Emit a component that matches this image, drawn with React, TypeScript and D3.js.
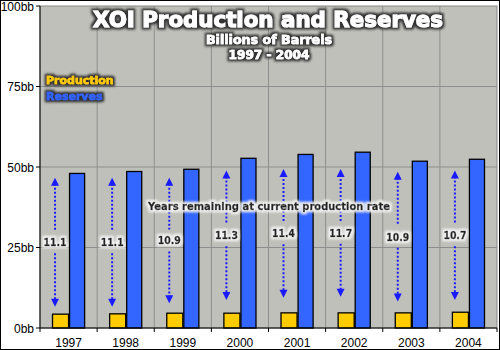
import React from "react";
import * as d3 from "d3";

const width = 500;
const height = 350;
const margin = { top: 6, right: 3, bottom: 22, left: 40 };

const years = ["1997", "1998", "1999", "2000", "2001", "2002", "2003", "2004"];
const production = [4.3, 4.4, 4.6, 4.6, 4.7, 4.7, 4.7, 4.9];
const reserves = [48.0, 48.6, 49.3, 52.7, 53.9, 54.6, 51.8, 52.4];
const yearsLeft = ["11.1", "11.1", "10.9", "11.3", "11.4", "11.7", "10.9", "10.7"];
const arrowTop = [46.7, 46.7, 46.7, 48.9, 49.4, 49.4, 48.5, 48.9];
const arrowBottom = [6.6, 6.6, 7.7, 8.7, 9.4, 9.7, 8.2, 8.7];
const yTicks = [0, 25, 50, 75, 100];
const seriesNames = ["Production", "Reserves"];
const colors = { Production: "#FFCC00", Reserves: "#3366FF" };

const font = "'DejaVu Sans', Verdana, sans-serif";
const axisFont = "'Liberation Sans', Arial, sans-serif";

// heavy text: bold glyphs thickened with a thin stroke of the same colour
function Heavy({ fill, halo, thick = 0.7, children, ...rest }) {
  return (
    <text
      fontFamily={font}
      fontWeight="bold"
      fill={fill}
      stroke={fill}
      strokeWidth={thick}
      filter={`url(#${halo})`}
      {...rest}
    >
      {children}
    </text>
  );
}

export default function App() {
  const x = d3
    .scaleBand()
    .domain(years)
    .range([margin.left, width - margin.right])
    .padding(0);
  const x1 = d3
    .scaleBand()
    .domain(seriesNames)
    .range([0, x.bandwidth()])
    .paddingInner(0)
    .paddingOuter(0.78);
  const y = d3
    .scaleLinear()
    .domain([0, 100])
    .range([height - margin.bottom, margin.top]);

  const plotBottom = y(0);
  const plotTop = y(100);

  return (
    <div style={{ position: "absolute", left: 0, top: 0 }}>
      <svg width={width} height={height} style={{ display: "block" }}>
        <defs>
          <filter id="darkHalo" x="-10%" y="-30%" width="120%" height="160%">
            <feMorphology in="SourceAlpha" operator="dilate" radius="1.7" result="d" />
            <feGaussianBlur in="d" stdDeviation="1" result="b" />
            <feFlood floodColor="#333" />
            <feComposite in2="b" operator="in" result="halo" />
            <feMerge>
              <feMergeNode in="halo" />
              <feMergeNode in="SourceGraphic" />
            </feMerge>
          </filter>
          <filter id="lightHalo" x="-10%" y="-30%" width="120%" height="160%">
            <feMorphology in="SourceAlpha" operator="dilate" radius="1.5" result="d" />
            <feGaussianBlur in="d" stdDeviation="0.9" result="b" />
            <feFlood floodColor="#f2f2f2" />
            <feComposite in2="b" operator="in" result="halo" />
            <feMerge>
              <feMergeNode in="halo" />
              <feMergeNode in="SourceGraphic" />
            </feMerge>
          </filter>
        </defs>

        <rect x={0.5} y={0.5} width={width - 1} height={height - 1} fill="#fff" stroke="#000" />

        {/* plot area */}
        <rect
          x={margin.left}
          y={plotTop}
          width={width - margin.right - margin.left}
          height={plotBottom - plotTop}
          fill="#C0C0BA"
          stroke="#888"
        />

        {/* grid */}
        {yTicks.slice(1, -1).map(t => (
          <line key={t} x1={margin.left} x2={width - margin.right} y1={y(t)} y2={y(t)} stroke="#8e8e8e" />
        ))}
        {years.slice(1).map(yr => (
          <line key={yr} x1={x(yr)} x2={x(yr)} y1={plotTop} y2={plotBottom} stroke="#8e8e8e" />
        ))}

        {/* bars */}
        {years.map((yr, i) => (
          <g key={yr}>
            <rect
              x={x(yr) + x1("Production")}
              y={y(production[i])}
              width={x1.bandwidth()}
              height={plotBottom - y(production[i])}
              fill={colors.Production}
              stroke="#000"
              strokeWidth={1.3}
            />
            <rect
              x={x(yr) + x1("Reserves") + 1}
              y={y(reserves[i])}
              width={x1.bandwidth() - 1}
              height={plotBottom - y(reserves[i])}
              fill={colors.Reserves}
              stroke="#000"
              strokeWidth={1.3}
            />
          </g>
        ))}

        {/* arrows */}
        {years.map((yr, i) => {
          const ax = x(yr) + x1("Production") + 2.5;
          const t = y(arrowTop[i]);
          const b = y(arrowBottom[i]);
          const mid = (t + b) / 2;
          return (
            <g key={yr}>
              <line x1={ax} x2={ax} y1={t + 6} y2={mid - 11} stroke="#1a1aff" strokeWidth={2} strokeDasharray="2,2" />
              <line x1={ax} x2={ax} y1={mid + 11} y2={b - 6} stroke="#1a1aff" strokeWidth={2} strokeDasharray="2,2" />
              <path d={`M${ax},${t} L${ax - 4},${t + 8} L${ax + 4},${t + 8} Z`} fill="#1a1aff" />
              <path d={`M${ax},${b} L${ax - 4},${b - 8} L${ax + 4},${b - 8} Z`} fill="#1a1aff" />
              <Heavy
                x={ax}
                y={mid + 4}
                textAnchor="middle"
                fontSize={11}
                fill="#222"
                halo="lightHalo"
                thick={0.5}
                textLength={23}
                lengthAdjust="spacingAndGlyphs"
              >
                {yearsLeft[i]}
              </Heavy>
            </g>
          );
        })}

        <Heavy
          x={269}
          y={210}
          textAnchor="middle"
          fontSize={11}
          fill="#222"
          halo="lightHalo"
          thick={0.5}
          textLength={242}
          lengthAdjust="spacingAndGlyphs"
        >
          Years remaining at current production rate
        </Heavy>

        {/* axes */}
        <line x1={margin.left} x2={margin.left} y1={plotTop} y2={plotBottom} stroke="#000" />
        <line x1={margin.left} x2={width - margin.right} y1={plotBottom} y2={plotBottom} stroke="#000" />
        {yTicks.map(t => (
          <g key={t}>
            <line x1={margin.left - 4} x2={margin.left} y1={y(t)} y2={y(t)} stroke="#000" />
            <text x={34} y={y(t) + 4.5} textAnchor="end" fontFamily={axisFont} fontSize={12} fill="#000">
              {`${t}bb`}
            </text>
          </g>
        ))}
        {years.concat(["end"]).map((yr, i) => {
          const px = i < years.length ? x(yr) : width - margin.right;
          return <line key={yr} x1={px} x2={px} y1={plotBottom} y2={plotBottom + 4} stroke="#000" />;
        })}
        {years.map(yr => (
          <text
            key={yr}
            x={x(yr) + x.bandwidth() / 2}
            y={plotBottom + 19}
            textAnchor="middle"
            fontFamily={axisFont}
            fontSize={12}
            fill="#000"
          >
            {yr}
          </text>
        ))}

        {/* titles */}
        <Heavy
          x={268}
          y={27}
          textAnchor="middle"
          fontSize={21}
          fill="#fff"
          halo="darkHalo"
          thick={1}
          textLength={350}
          lengthAdjust="spacingAndGlyphs"
        >
          XOI Production and Reserves
        </Heavy>
        <Heavy
          x={269}
          y={44}
          textAnchor="middle"
          fontSize={12}
          fill="#fff"
          halo="darkHalo"
          thick={0.6}
          textLength={126}
          lengthAdjust="spacingAndGlyphs"
        >
          Billions of Barrels
        </Heavy>
        <Heavy
          x={269}
          y={59}
          textAnchor="middle"
          fontSize={12}
          fill="#fff"
          halo="darkHalo"
          thick={0.6}
          textLength={81}
          lengthAdjust="spacingAndGlyphs"
        >
          1997 - 2004
        </Heavy>

        {/* legend */}
        {seriesNames.map((s, i) => (
          <Heavy
            key={s}
            x={46}
            y={84 + i * 16}
            fontSize={11}
            fill={colors[s]}
            halo="darkHalo"
            thick={0.5}
          >
            {s}
          </Heavy>
        ))}
      </svg>
    </div>
  );
}
